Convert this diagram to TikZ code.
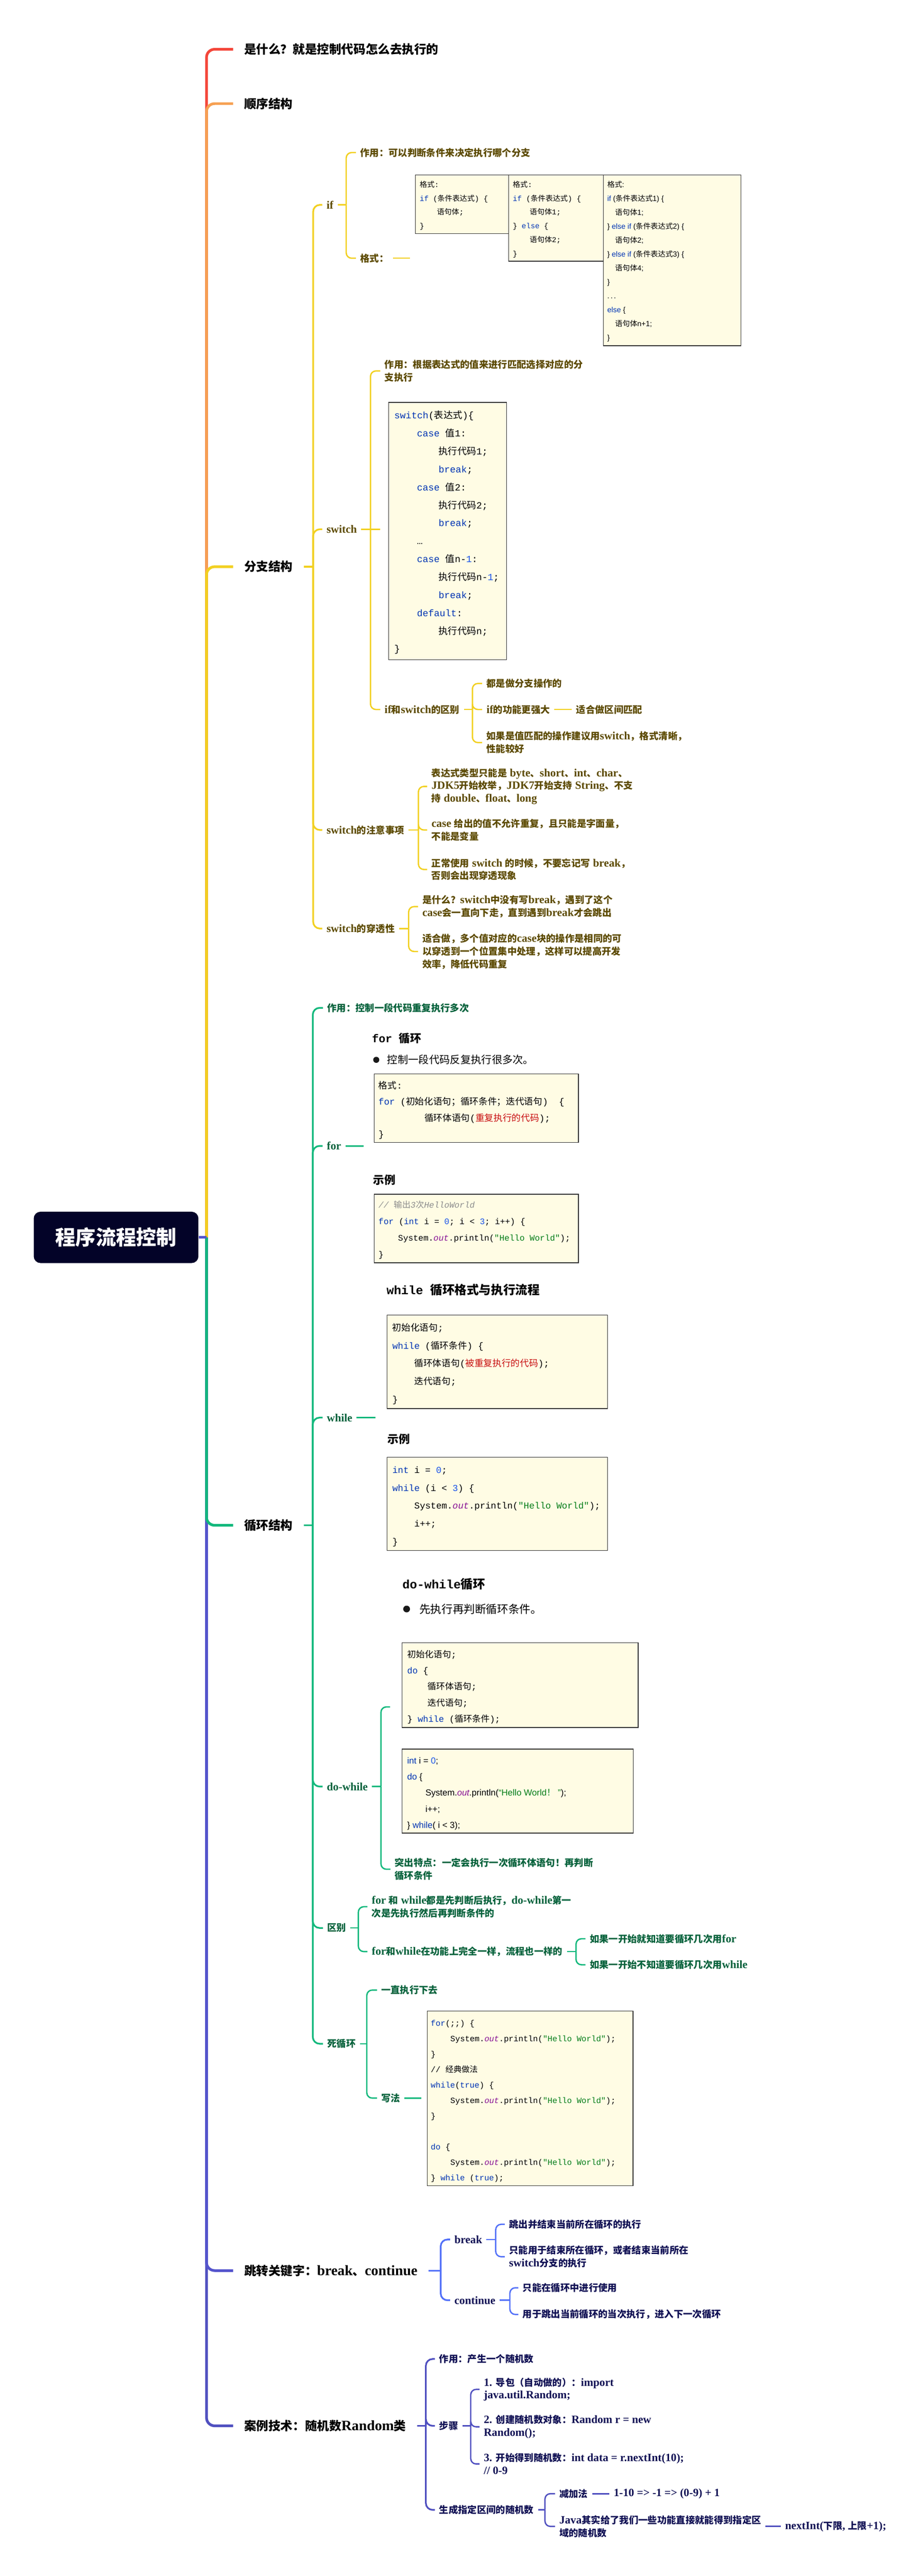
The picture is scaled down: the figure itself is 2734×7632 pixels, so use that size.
\documentclass[tikz,border=0pt]{standalone}
\usepackage{fontspec}
\usepackage{tikz}
\setmainfont{Liberation Serif}[Scale=1.18]
\setsansfont{Liberation Sans}
\setmonofont{Liberation Mono}
\newfontfamily\cjkfont{Noto Sans CJK SC}

% chinese characters switch to the CJK font by themselves
\XeTeXinterchartokenstate=1
\chardef\cjkcls=7
\newcount\cjkc
\newcommand\cjkrange[2]{\cjkc=#1\relax
  \loop\XeTeXcharclass\cjkc=\cjkcls\advance\cjkc by 1\relax
  \ifnum\cjkc<#2\relax\repeat}
\cjkrange{"3000}{"3040}
\cjkrange{"4E00}{"A000}
\cjkrange{"FF00}{"FFF0}
\def\latinback{\rmfamily}
\XeTeXinterchartoks 0 \cjkcls = {\cjkfont}
\XeTeXinterchartoks 4095 \cjkcls = {\cjkfont}
\XeTeXinterchartoks \cjkcls 0 = {\latinback}
\XeTeXinterchartoks \cjkcls 4095 = {\latinback}

\definecolor{cred}{RGB}{244,70,58}
\definecolor{corg}{RGB}{246,160,82}
\definecolor{cyel}{RGB}{242,208,32}
\definecolor{cgrn}{RGB}{18,184,124}
\definecolor{cjmp}{RGB}{84,84,204}
\definecolor{cjsub}{RGB}{82,112,248}
\definecolor{ccase}{RGB}{80,80,192}
\definecolor{ytext}{RGB}{92,74,0}
\definecolor{gtext}{RGB}{6,98,60}
\definecolor{btext}{RGB}{16,16,84}
\definecolor{rootc}{RGB}{3,3,40}
\definecolor{boxfill}{RGB}{255,252,228}
\definecolor{kwblue}{RGB}{0,51,179}
\definecolor{numblue}{RGB}{23,80,235}
\definecolor{strgreen}{RGB}{6,125,23}
\definecolor{fldpurple}{RGB}{135,16,148}
\definecolor{hotred}{RGB}{200,16,16}
\definecolor{comgray}{RGB}{140,140,140}

% code colouring
\newcommand\ckw[1]{\textcolor{kwblue}{#1}}
\newcommand\cnum[1]{\textcolor{numblue}{#1}}
\newcommand\cstr[1]{\textcolor{strgreen}{#1}}
\newcommand\cfld[1]{\textcolor{fldpurple}{\itshape #1}}
\newcommand\chot[1]{\textcolor{hotred}{#1}}
\newcommand\ccom[1]{\textcolor{comgray}{\itshape #1}}

\tikzset{
  trunk/.style={line width=2pt, rounded corners=6pt},
  lv2/.style={line width=1.25pt, rounded corners=5pt},
  lv3/.style={line width=1pt, rounded corners=4pt},
  rootbox/.style={fill=rootc, text=white, rounded corners=5pt, minimum width=122pt, minimum height=38pt, inner sep=0pt, font=\fontsize{15}{18}\selectfont\bfseries},
  topnode/.style={anchor=west, xshift=-8pt, inner xsep=8pt, inner ysep=2pt, font=\fontsize{9}{11}\selectfont\bfseries},
  lab/.style={anchor=west, xshift=-3pt, inner xsep=3pt, inner ysep=1pt, align=left, font=\fontsize{7}{9.4}\selectfont\bfseries},
  ylab/.style={lab, text=ytext},
  glab/.style={lab, text=gtext},
  blab/.style={lab, text=btext},
  cbox/.style={draw=black!80, fill=boxfill, line width=0.5pt, anchor=north west, inner sep=0pt},
  cl/.style={anchor=west, inner sep=0pt, text height={0.88*#1pt}, text depth={0.12*#1pt}, font=\fontsize{#1}{#1}\selectfont\ttfamily\def\latinback{\ttfamily}},
  cls/.style={cl=#1, font=\fontsize{#1}{#1}\selectfont\sffamily\def\latinback{\sffamily}},
  head/.style={anchor=west, inner sep=0pt, font=\fontsize{#1}{#1}\selectfont\bfseries},
  bul/.style={anchor=west, inner sep=0pt, font=\fontsize{#1}{#1}\selectfont},
}

\begin{document}
\begin{tikzpicture}[x=0.25pt,y=-0.25pt]
	\useasboundingbox (0,0) rectangle (2734,7632);
	\fill[white] (0,0) rectangle (2734,7632);

	% main branches
	\node[rootbox] (root) at (344,3666) {程序流程控制};
	\coordinate (rootj) at (612,3666);
	\node[topnode] (what) at (723,146) {是什么？就是控制代码怎么去执行的};
	\node[topnode] (seq) at (723,307) {顺序结构};
	\node[topnode] (branch) at (723,1679) {分支结构};
	\node[topnode] (loop) at (723,4519) {循环结构};
	\node[topnode] (jump) at (723,6727) {跳转关键字：break、continue};
	\node[topnode] (case) at (723,7187) {案例技术：随机数Random类};
	\draw[trunk,cred] (rootj) |- (what.west);
	\draw[trunk,corg] (rootj) |- (seq.west);
	\draw[trunk,cyel] (rootj) |- (branch.west);
	\draw[trunk,ccase] (rootj) |- (case.west);
	\draw[trunk,cjmp] (rootj) |- (jump.west);
	\draw[trunk,cgrn] (rootj) |- (loop.west);
	\draw[trunk,cjmp] (root.east) -- (rootj);

	% branch structure
	\coordinate (branchj) at (928,1679);
	\draw[lv2,cyel] (branch.east) -- (branchj);
	\node[ylab] (if) at (967,607) {if};
	\node[ylab] (switch) at (967,1568) {switch};
	\node[ylab] (swnote) at (967,2459) {switch的注意事项};
	\node[ylab] (swthru) at (967,2751) {switch的穿透性};
	\foreach \kid in {if,switch,swnote,swthru}
		\draw[lv2,cyel] (branchj) |- (\kid.west);

	% if
	\coordinate (ifj) at (1026,607);
	\draw[lv3,cyel] (if.east) -- (ifj);
	\node[ylab] (ifuse) at (1067,452) {作用：可以判断条件来决定执行哪个分支};
	\node[ylab] (iffmt) at (1067,765) {格式：};
	\foreach \kid in {ifuse,iffmt}
		\draw[lv3,cyel] (ifj) |- (\kid.west);
	\coordinate (ifimg) at (1215,765);
	\draw[lv3,cyel] (iffmt.east) -- (ifimg);
	\node[cbox,minimum width=69pt,minimum height=43.5pt] (ifbox1) at (1230,517) {};
	\node[cbox,minimum width=70.25pt,minimum height=64pt] (ifbox2) at (1506,517) {};
	\node[cbox,minimum width=102pt,minimum height=126.5pt] (ifbox3) at (1787,517) {};
	\foreach \row [count=\k from 0] in {{格式:},{\ckw{if} (条件表达式) \{},{\hspace*{12.75pt}语句体;},{\}}}
		\node[cl=5.5] (ifa-\k) at (1243,546+41*\k) {\row};
	\foreach \row [count=\k from 0] in {{格式:},{\ckw{if} (条件表达式) \{},{\hspace*{12.5pt}语句体1;},{\} \ckw{else} \{},{\hspace*{12.5pt}语句体2;},{\}}}
		\node[cl=5.5] (ifb-\k) at (1519,546+41*\k) {\row};
	\foreach \row [count=\k from 0] in {{格式:},{\ckw{if} (条件表达式1) \{},{\hspace*{5.75pt}语句体1;},{\} \ckw{else if} (条件表达式2) \{},{\hspace*{5.75pt}语句体2;},{\} \ckw{else if} (条件表达式3) \{},{\hspace*{5.75pt}语句体4;},{\}},{.\,.\,.},{\ckw{else} \{},{\hspace*{5.75pt}语句体n+1;},{\}}}
		\node[cls=5.5] (ifc-\k) at (1799,546+41.2*\k) {\row};

	% switch
	\coordinate (swj) at (1098,1568);
	\draw[lv3,cyel] (switch.east) -- (swj);
	\node[ylab] (swuse) at (1139,1099) {作用：根据表达式的值来进行匹配选择对应的分\\支执行};
	\coordinate (swimg) at (1126,1568);
	\node[ylab] (swdiff) at (1139,2102) {if和switch的区别};
	\draw[lv3,cyel] (swj) |- (swuse.west);
	\draw[lv3,cyel] (swj) -- (swimg);
	\draw[lv3,cyel] (swj) |- (swdiff.west);
	\node[cbox,minimum width=87.25pt,minimum height=190.75pt] (swbox) at (1151,1191) {};
	\foreach \row [count=\k from 0] in {{\ckw{switch}(表达式)\{},{\hspace*{16.75pt}\ckw{case} 值1:},{\hspace*{32.75pt}执行代码1;},{\hspace*{32.75pt}\ckw{break};},{\hspace*{16.75pt}\ckw{case} 值2:},{\hspace*{32.75pt}执行代码2;},{\hspace*{32.75pt}\ckw{break};},{\hspace*{16.75pt}…},{\hspace*{16.75pt}\ckw{case} 值n-\cnum{1}:},{\hspace*{32.75pt}执行代码n-\cnum{1};},{\hspace*{32.75pt}\ckw{break};},{\hspace*{16.75pt}\ckw{default}:},{\hspace*{32.75pt}执行代码n;},{\}}}
		\node[cl=7] (swl-\k) at (1168,1230+53.2*\k) {\row};

	% if or switch
	\coordinate (swdiffj) at (1400,2102);
	\draw[lv3,cyel] (swdiff.east) -- (swdiffj);
	\node[ylab] (d1) at (1441,2025) {都是做分支操作的};
	\node[ylab] (d2) at (1441,2102) {if的功能更强大};
	\node[ylab] (d3) at (1441,2200) {如果是值匹配的操作建议用switch，格式清晰，\\性能较好};
	\foreach \kid in {d1,d2,d3}
		\draw[lv3,cyel] (swdiffj) |- (\kid.west);
	\node[ylab] (d2a) at (1707,2102) {适合做区间匹配};
	\draw[lv3,cyel] (d2) -- (d2a);

	% switch notes
	\coordinate (swnotej) at (1240,2459);
	\draw[lv3,cyel] (swnote.east) -- (swnotej);
	\node[ylab] (n1) at (1278,2330) {表达式类型只能是 byte、short、int、char、\\JDK5开始枚举，JDK7开始支持 String、不支\\持 double、float、long};
	\node[ylab] (n2) at (1278,2459) {case 给出的值不允许重复，且只能是字面量，\\不能是变量};
	\node[ylab] (n3) at (1278,2576) {正常使用 switch 的时候，不要忘记写 break，\\否则会出现穿透现象};
	\foreach \kid in {n1,n2,n3}
		\draw[lv3,cyel] (swnotej) |- (\kid.west);

	% fall through
	\coordinate (swthruj) at (1211,2751);
	\draw[lv3,cyel] (swthru.east) -- (swthruj);
	\node[ylab] (t1) at (1251,2686) {是什么？switch中没有写break，遇到了这个\\case会一直向下走，直到遇到break才会跳出};
	\node[ylab] (t2) at (1251,2819) {适合做，多个值对应的case块的操作是相同的可\\以穿透到一个位置集中处理，这样可以提高开发\\效率，降低代码重复};
	\foreach \kid in {t1,t2}
		\draw[lv3,cyel] (swthruj) |- (\kid.west);

	% loop structure
	\coordinate (loopj) at (927,4519);
	\draw[lv2,cgrn] (loop.east) -- (loopj);
	\node[glab] (luse) at (969,2986) {作用：控制一段代码重复执行多次};
	\node[glab] (lfor) at (968,3395) {for};
	\node[glab] (lwhile) at (968,4200) {while};
	\node[glab] (ldo) at (968,5293) {do-while};
	\node[glab] (ldiff) at (969,5712) {区别};
	\node[glab] (linf) at (969,6055) {死循环};
	\foreach \kid in {luse,lfor,lwhile,ldo,ldiff,linf}
		\draw[lv2,cgrn] (loopj) |- (\kid.west);

	% for
	\coordinate (forimg) at (1077,3395);
	\draw[lv3,cgrn] (lfor.east) -- (forimg);
	\node[head=8.25] (forhd) at (1102,3076) {\ttfamily for 循环};
	\fill[black!90] (1115,3140) circle [radius=9];
	\node[bul=7.75] (forbul) at (1147,3140) {控制一段代码反复执行很多次。};
	\node[cbox,minimum width=151.25pt,minimum height=50.75pt] (forbox) at (1108,3181) {};
	\foreach \row [count=\k from 0] in {{格式:},{\ckw{for} (初始化语句；循环条件；迭代语句)\ \ \{},{\hspace*{34pt}循环体语句(\chot{重复执行的代码});},{\}}}
		\node[cl=6.75] (forl-\k) at (1121,3215+48.3*\k) {\row};
	\node[head=8.25] (forex) at (1105,3496) {示例};
	\node[cbox,minimum width=151.25pt,minimum height=50.75pt] (forexbox) at (1108,3537) {};
	\foreach \row [count=\k from 0] in {{\ccom{// 输出3次HelloWorld}},{\ckw{for} (\ckw{int} i = \cnum{0}; i < \cnum{3}; i++) \{},{\hspace*{14.5pt}System.\cfld{out}.println(\cstr{"Hello World"});},{\}}}
		\node[cl=6.25] (forexl-\k) at (1121,3569+49*\k) {\row};

	% while
	\coordinate (whimg) at (1113,4200);
	\draw[lv3,cgrn] (lwhile.east) -- (whimg);
	\node[head=9] (whhd) at (1145,3821) {\ttfamily while 循环格式与执行流程};
	\node[cbox,minimum width=163.25pt,minimum height=69.25pt] (whbox) at (1146,3895) {};
	\foreach \row [count=\k from 0] in {{初始化语句;},{\ckw{while} (循环条件) \{},{\hspace*{16.25pt}循环体语句(\chot{被重复执行的代码});},{\hspace*{16.25pt}迭代语句;},{\}}}
		\node[cl=6.75] (whl-\k) at (1162,3933+53*\k) {\row};
	\node[head=8.25] (whex) at (1148,4263) {示例};
	\node[cbox,minimum width=163.25pt,minimum height=69.25pt] (whexbox) at (1146,4316) {};
	\foreach \row [count=\k from 0] in {{\ckw{int} i = \cnum{0};},{\ckw{while} (i < \cnum{3}) \{},{\hspace*{16.25pt}System.\cfld{out}.println(\cstr{"Hello World"});},{\hspace*{16.25pt}i++;},{\}}}
		\node[cl=6.75] (whexl-\k) at (1162,4354+53.25*\k) {\row};

	% do-while
	\coordinate (doj) at (1129,5293);
	\draw[lv3,cgrn] (ldo.east) -- (doj);
	\coordinate (doimg) at (1156,5057);
	\node[glab] (dofeat) at (1169,5538) {突出特点：一定会执行一次循环体语句！再判断\\循环条件};
	\draw[lv3,cgrn] (doj) |- (doimg);
	\draw[lv3,cgrn] (doj) |- (dofeat.west);
	\node[head=9] (dohd) at (1192,4694) {\ttfamily do-while循环};
	\fill[black!90] (1205,4767) circle [radius=10];
	\node[bul=8.25] (dobul) at (1242,4767) {先执行再判断循环条件。};
	\node[cbox,minimum width=175pt,minimum height=62.75pt] (dobox) at (1190,4866) {};
	\foreach \row [count=\k from 0] in {{初始化语句;},{\ckw{do} \{},{\hspace*{15pt}循环体语句;},{\hspace*{15pt}迭代语句;},{\} \ckw{while} (循环条件);}}
		\node[cl=6.5] (dol-\k) at (1206,4901+47.75*\k) {\row};
	\node[cbox,minimum width=171.5pt,minimum height=62.25pt] (doexbox) at (1190,5181) {};
	\foreach \row [count=\k from 0] in {{\ckw{int} i = \cnum{0};},{\ckw{do} \{},{\hspace*{13.5pt}System.\cfld{out}.println(\cstr{“Hello World！ ”});},{\hspace*{13.5pt}i++;},{\} \ckw{while}( i < 3);}}
		\node[cls=6.5] (doexl-\k) at (1206,5216+47.5*\k) {\row};

	% difference
	\coordinate (ldiffj) at (1062,5712);
	\draw[lv3,cgrn] (ldiff.east) -- (ldiffj);
	\node[glab] (df1) at (1101,5649) {for 和 while都是先判断后执行，do-while第一\\次是先执行然后再判断条件的};
	\node[glab] (df2) at (1101,5782) {for和while在功能上完全一样，流程也一样的};
	\foreach \kid in {df1,df2}
		\draw[lv3,cgrn] (ldiffj) |- (\kid.west);
	\coordinate (df2j) at (1707,5782);
	\draw[lv3,cgrn] (df2.east) -- (df2j);
	\node[glab] (df2a) at (1747,5744) {如果一开始就知道要循环几次用for};
	\node[glab] (df2b) at (1747,5821) {如果一开始不知道要循环几次用while};
	\foreach \kid in {df2a,df2b}
		\draw[lv3,cgrn] (df2j) |- (\kid.west);

	% endless loop
	\coordinate (linfj) at (1087,6055);
	\draw[lv3,cgrn] (linf.east) -- (linfj);
	\node[glab] (inf1) at (1129,5896) {一直执行下去};
	\node[glab] (inf2) at (1129,6216) {写法};
	\foreach \kid in {inf1,inf2}
		\draw[lv3,cgrn] (linfj) |- (\kid.west);
	\coordinate (infimg) at (1248,6216);
	\draw[lv3,cgrn] (inf2.east) -- (infimg);
	\node[cbox,minimum width=152.5pt,minimum height=129.5pt] (infbox) at (1265,5957) {};
	\foreach \row [count=\k from 0] in {{\ckw{for}(;;) \{},{\hspace*{14.5pt}System.\cfld{out}.println(\cstr{"Hello World"});},{\}},{// 经典做法},{\ckw{while}(\ckw{true}) \{},{\hspace*{14.5pt}System.\cfld{out}.println(\cstr{"Hello World"});},{\}}}
		\node[cl=6] (infl-\k) at (1276,5993+45.9*\k) {\row};
	\foreach \row [count=\k from 8] in {{\ckw{do} \{},{\hspace*{14.5pt}System.\cfld{out}.println(\cstr{"Hello World"});},{\} \ckw{while} (\ckw{true});}}
		\node[cl=6] (infl-\k) at (1276,5993+45.9*\k) {\row};

	% jump keywords
	\coordinate (jumpj) at (1306,6727);
	\draw[lv2,cjsub] (jump.east) -- (jumpj);
	\node[blab] (jbreak) at (1346,6635) {break};
	\node[blab] (jcont) at (1346,6815) {continue};
	\foreach \kid in {jbreak,jcont}
		\draw[lv2,cjsub] (jumpj) |- (\kid.west);
	\coordinate (jbreakj) at (1469,6635);
	\draw[lv3,cjsub] (jbreak.east) -- (jbreakj);
	\node[blab] (jb1) at (1508,6590) {跳出并结束当前所在循环的执行};
	\node[blab] (jb2) at (1508,6686) {只能用于结束所在循环，或者结束当前所在\\switch分支的执行};
	\foreach \kid in {jb1,jb2}
		\draw[lv3,cjsub] (jbreakj) |- (\kid.west);
	\coordinate (jcontj) at (1511,6815);
	\draw[lv3,cjsub] (jcont.east) -- (jcontj);
	\node[blab] (jc1) at (1548,6778) {只能在循环中进行使用};
	\node[blab] (jc2) at (1548,6857) {用于跳出当前循环的当次执行，进入下一次循环};
	\foreach \kid in {jc1,jc2}
		\draw[lv3,cjsub] (jcontj) |- (\kid.west);

	% random numbers
	\coordinate (casej) at (1262,7187);
	\draw[lv2,ccase] (case.east) -- (casej);
	\node[blab] (ruse) at (1301,6989) {作用：产生一个随机数};
	\node[blab] (rstep) at (1301,7187) {步骤};
	\node[blab] (rgen) at (1301,7436) {生成指定区间的随机数};
	\foreach \kid in {ruse,rstep,rgen}
		\draw[lv2,ccase] (casej) |- (\kid.west);
	\coordinate (rstepj) at (1395,7187);
	\draw[lv3,ccase] (rstep.east) -- (rstepj);
	\node[blab] (rs1) at (1433,7079) {1. 导包（自动做的）：import\\java.util.Random;};
	\node[blab] (rs2) at (1433,7190) {2. 创建随机数对象：Random r = new\\Random();};
	\node[blab] (rs3) at (1433,7300) {3. 开始得到随机数：int data = r.nextInt(10);\\// 0-9};
	\foreach \kid in {rs1,rs2,rs3}
		\draw[lv3,ccase] (rstepj) |- (\kid.west);
	\coordinate (rgenj) at (1615,7436);
	\draw[lv3,ccase] (rgen.east) -- (rgenj);
	\node[blab] (rg1) at (1657,7388) {减加法};
	\node[blab] (rg2) at (1657,7485) {Java其实给了我们一些功能直接就能得到指定区\\域的随机数};
	\foreach \kid in {rg1,rg2}
		\draw[lv3,ccase] (rgenj) |- (\kid.west);
	\node[blab] (rg1a) at (1818,7388) {1-10 => -1 => (0-9) + 1};
	\node[blab] (rg2a) at (2326,7485) {nextInt(下限, 上限+1);};
	\draw[lv3,ccase] (rg1) -- (rg1a);
	\draw[lv3,ccase] (rg2) -- (rg2a);
\end{tikzpicture}
\end{document}
